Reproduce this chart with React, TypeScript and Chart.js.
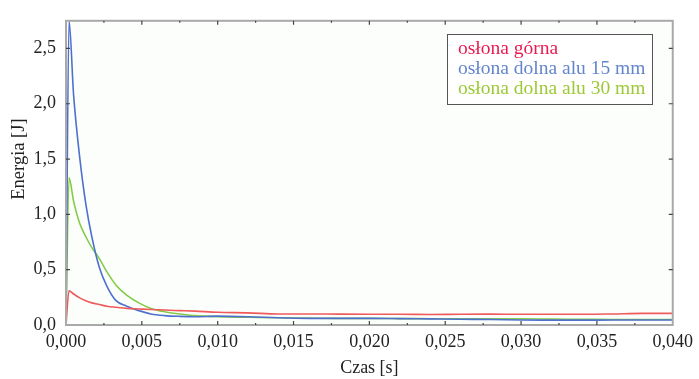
import React, { useEffect, useRef } from "react";
import { Chart, registerables } from "chart.js";

Chart.register(...registerables);

const times = [0, 0.0002, 0.0005, 0.0009, 0.0013, 0.0017, 0.0022, 0.0027, 0.0033, 0.004, 0.0048, 0.0056, 0.0065, 0.0075, 0.0085, 0.01, 0.012, 0.014, 0.016, 0.018, 0.02, 0.022, 0.024, 0.026, 0.028, 0.03, 0.032, 0.034, 0.036, 0.038, 0.04];

const gornaValues = [0, 0.31, 0.28, 0.245, 0.22, 0.2, 0.185, 0.17, 0.16, 0.15, 0.145, 0.14, 0.135, 0.13, 0.125, 0.115, 0.11, 0.1, 0.1, 0.098, 0.097, 0.097, 0.095, 0.097, 0.098, 0.097, 0.097, 0.097, 0.1, 0.105, 0.105];
const alu15Values = [0, 2.75, 2.08, 1.52, 1.1, 0.8, 0.52, 0.35, 0.22, 0.17, 0.13, 0.1, 0.085, 0.078, 0.075, 0.08, 0.075, 0.065, 0.06, 0.06, 0.06, 0.058, 0.055, 0.052, 0.05, 0.045, 0.044, 0.044, 0.045, 0.045, 0.045];
const alu30Values = [0, 1.33, 1.12, 0.92, 0.8, 0.7, 0.6, 0.48, 0.36, 0.27, 0.2, 0.15, 0.12, 0.1, 0.085, 0.075, 0.07, 0.065, 0.062, 0.06, 0.06, 0.058, 0.057, 0.056, 0.055, 0.055, 0.053, 0.052, 0.05, 0.05, 0.05];

const seriesLabels = ["osłona górna", "osłona dolna alu 15 mm", "osłona dolna alu 30 mm"];
const lineColors = ["#ef5a5a", "#4f70cf", "#84cc48"];
const textColors = ["#e81c50", "#6385cc", "#9cc935"];

const xTickStep = 0.005;
const yTickStep = 0.5;
const xMax = 0.04;
const yMax = 2.75;

const FONT = "'Liberation Serif', 'DejaVu Serif', serif";

const framePlugin = {
  id: "frame",
  beforeDraw(chart: any) {
    const { ctx, chartArea: a } = chart;
    ctx.save();
    ctx.fillStyle = "#fcfefc";
    ctx.fillRect(a.left, a.top, a.right - a.left, a.bottom - a.top);
    ctx.restore();
  },
  afterDatasetsDraw(chart: any) {
    const { ctx, chartArea: a, scales } = chart;
    ctx.save();
    ctx.strokeStyle = "#a9a9a9";
    ctx.lineWidth = 2;
    ctx.strokeRect(a.left, a.top, a.right - a.left, a.bottom - a.top);
    ctx.strokeStyle = "#444";
    ctx.lineWidth = 1.2;
    const xs = scales.x;
    for (let v = xTickStep / 2; v < xMax - 1e-9; v += xTickStep / 2) {
      const px = xs.getPixelForValue(v);
      const major = Math.abs(v / xTickStep - Math.round(v / xTickStep)) < 1e-6;
      const len = major ? 4 : 2;
      ctx.beginPath();
      ctx.moveTo(px, a.bottom);
      ctx.lineTo(px, a.bottom - len);
      ctx.moveTo(px, a.top);
      ctx.lineTo(px, a.top + len);
      ctx.stroke();
    }
    const ys = scales.y;
    for (let v = yTickStep; v < yMax; v += yTickStep) {
      const py = ys.getPixelForValue(v);
      ctx.beginPath();
      ctx.moveTo(a.left, py);
      ctx.lineTo(a.left + 4, py);
      ctx.moveTo(a.right, py);
      ctx.lineTo(a.right - 4, py);
      ctx.stroke();
    }
    ctx.restore();
  },
  afterDraw(chart: any) {
    const { ctx } = chart;
    const bx = 447, by = 34, bw = 205, bh = 70;
    ctx.save();
    ctx.fillStyle = "#ffffff";
    ctx.fillRect(bx, by, bw, bh);
    ctx.strokeStyle = "#555";
    ctx.lineWidth = 1;
    ctx.strokeRect(bx + 0.5, by + 0.5, bw, bh);
    ctx.font = `19.5px ${FONT}`;
    ctx.textBaseline = "middle";
    ctx.textAlign = "left";
    chart.data.datasets.forEach((ds: any, i: number) => {
      ctx.fillStyle = textColors[i];
      ctx.fillText(ds.label, bx + 11, by + 15 + i * 20);
    });
    ctx.restore();
  },
};

export default function App() {
  const ref = useRef<HTMLCanvasElement>(null);
  useEffect(() => {
    const values = [gornaValues, alu15Values, alu30Values];
    const chart = new Chart(ref.current as HTMLCanvasElement, {
      type: "line",
      data: {
        datasets: values.map((vals, i) => ({
          label: seriesLabels[i],
          data: times.map((t, j) => ({ x: t, y: vals[j] })),
          borderColor: lineColors[i],
          borderWidth: 1.6,
          pointRadius: 0,
          cubicInterpolationMode: "monotone" as const,
          fill: false,
        })),
      },
      options: {
        animation: false,
        responsive: false,
        devicePixelRatio: 1,
        layout: { padding: { left: 0, right: 26, top: 14, bottom: 0 } },
        plugins: { legend: { display: false }, tooltip: { enabled: false } },
        scales: {
          x: {
            type: "linear",
            min: 0,
            max: xMax,
            grid: { display: false, drawTicks: false },
            border: { display: false },
            ticks: {
              stepSize: xTickStep,
              autoSkip: false,
              maxRotation: 0,
              padding: 6,
              color: "#222",
              font: { family: FONT, size: 18 },
              callback: (v: any) => Number(v).toFixed(3).replace(".", ","),
            },
            title: {
              display: true,
              text: "Czas [s]",
              color: "#222",
              font: { family: FONT, size: 18 },
              padding: { top: 6, bottom: 0 },
            },
            afterFit: (s: any) => {
              s.height = 54;
            },
          },
          y: {
            type: "linear",
            min: 0,
            max: yMax,
            grid: { display: false, drawTicks: false },
            border: { display: false },
            ticks: {
              stepSize: yTickStep,
              padding: 10,
              color: "#222",
              font: { family: FONT, size: 18 },
              callback: (v: any) => Number(v).toFixed(1).replace(".", ","),
            },
            afterBuildTicks: (s: any) => {
              s.ticks = s.ticks.filter((t: any) => Math.abs(t.value / yTickStep - Math.round(t.value / yTickStep)) < 1e-6);
            },
            title: {
              display: true,
              text: "      Energia [J]",
              color: "#222",
              font: { family: FONT, size: 18.5 },
              padding: { top: 8, bottom: 0 },
            },
            afterFit: (s: any) => {
              s.width = 66;
            },
          },
        },
      },
      plugins: [framePlugin],
    });
    return () => chart.destroy();
  }, []);
  return (
    <div style={{ position: "fixed", left: 0, top: 0, width: 699, height: 379, background: "#fff" }}>
      <canvas ref={ref} width={699} height={379} />
    </div>
  );
}
